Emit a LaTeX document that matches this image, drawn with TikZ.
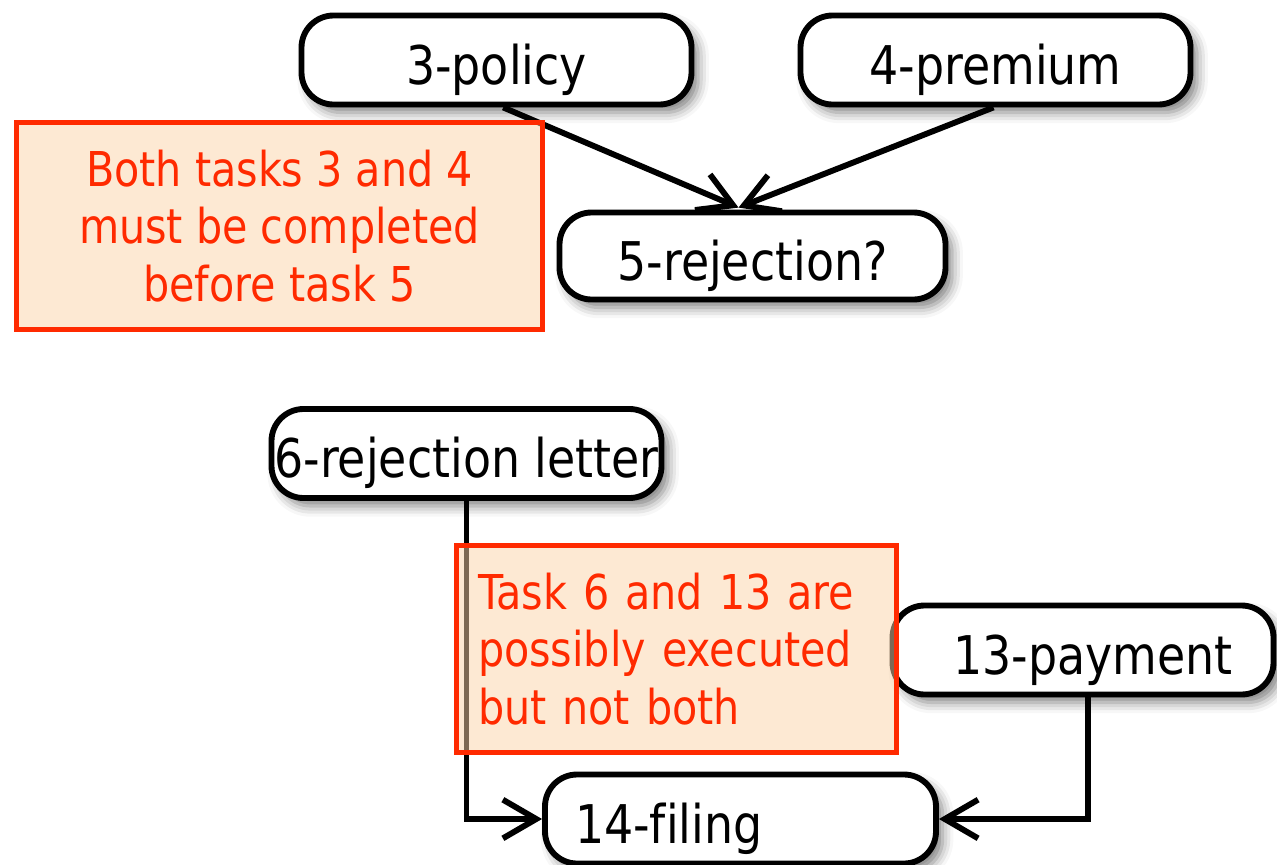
\documentclass[tikz,border=0pt]{standalone}
\usepackage{fontspec}
\setmainfont{DejaVu Sans}[FakeStretch=0.86, Ligatures=NoCommon]
\usetikzlibrary{arrows.meta,shadows.blur}
\definecolor{notered}{RGB}{255,42,0}
\definecolor{notefill}{RGB}{251,211,168}
\begin{document}
\begin{tikzpicture}[x=0.75pt,y=-0.75pt,
  task/.style={draw=black, line width=4.4pt, fill=white, rounded corners=24pt,
    minimum width=292.5pt, minimum height=66.75pt, inner sep=0pt,
    text height=36pt, text depth=0pt, font=\fontsize{40}{48}\selectfont,
    blur shadow={shadow xshift=5pt, shadow yshift=-6pt,
      shadow blur radius=8pt, shadow opacity=50}},
  conn/.style={line width=4.4pt, -{Straight Barb[length=25pt,width=29pt]}},
  note/.style={draw=notered, line width=4pt, fill=notefill,
    fill opacity=0.5, draw opacity=1, text opacity=1, text=notered,
    font=\fontsize{36}{43}\selectfont, minimum height=155.25pt}
]
\useasboundingbox (0,0) rectangle (1277,864);

% tasks
\node[task] (n3) at (496.5,60) {3-policy};
\node[task] (n4) at (995.5,60) {4-premium};
\node[task, minimum width=289.5pt, minimum height=65.25pt] (n5) at (752.5,256) {5-rejection?};
\node[task] (n6) at (466.5,453.5) {6-rejection letter};
\node[task, minimum width=285.75pt] (n13) at (1083,650) {\hspace*{15pt}13-payment};
\node[task, minimum width=293.25pt] (n14) at (740.5,819) {\makebox[248.25pt][l]{14-filing}};

% dependencies
\draw[conn] ([xshift=5pt]n3.south) -- ([xshift=-10.5pt,yshift=1.5pt]n5.north);
\draw[conn] ([xshift=-1.5pt]n4.south) -- ([xshift=-10.5pt,yshift=1.5pt]n5.north);
\draw[conn] (n6.south) |- (n14.west);
\draw[conn] ([xshift=3.75pt]n13.south) |- (n14.east);

% comments
\node[note, minimum width=394.5pt, align=center] (c1) at (279.5,226)
  {Both tasks 3 and 4\\must be completed\\before task 5};
\node[note, minimum width=330pt, inner xsep=16pt, text width=297.75pt, align=left] (c2) at (676.5,649)
  {Task 6 and 13 are\\possibly executed\\but not both};
\end{tikzpicture}
\end{document}
